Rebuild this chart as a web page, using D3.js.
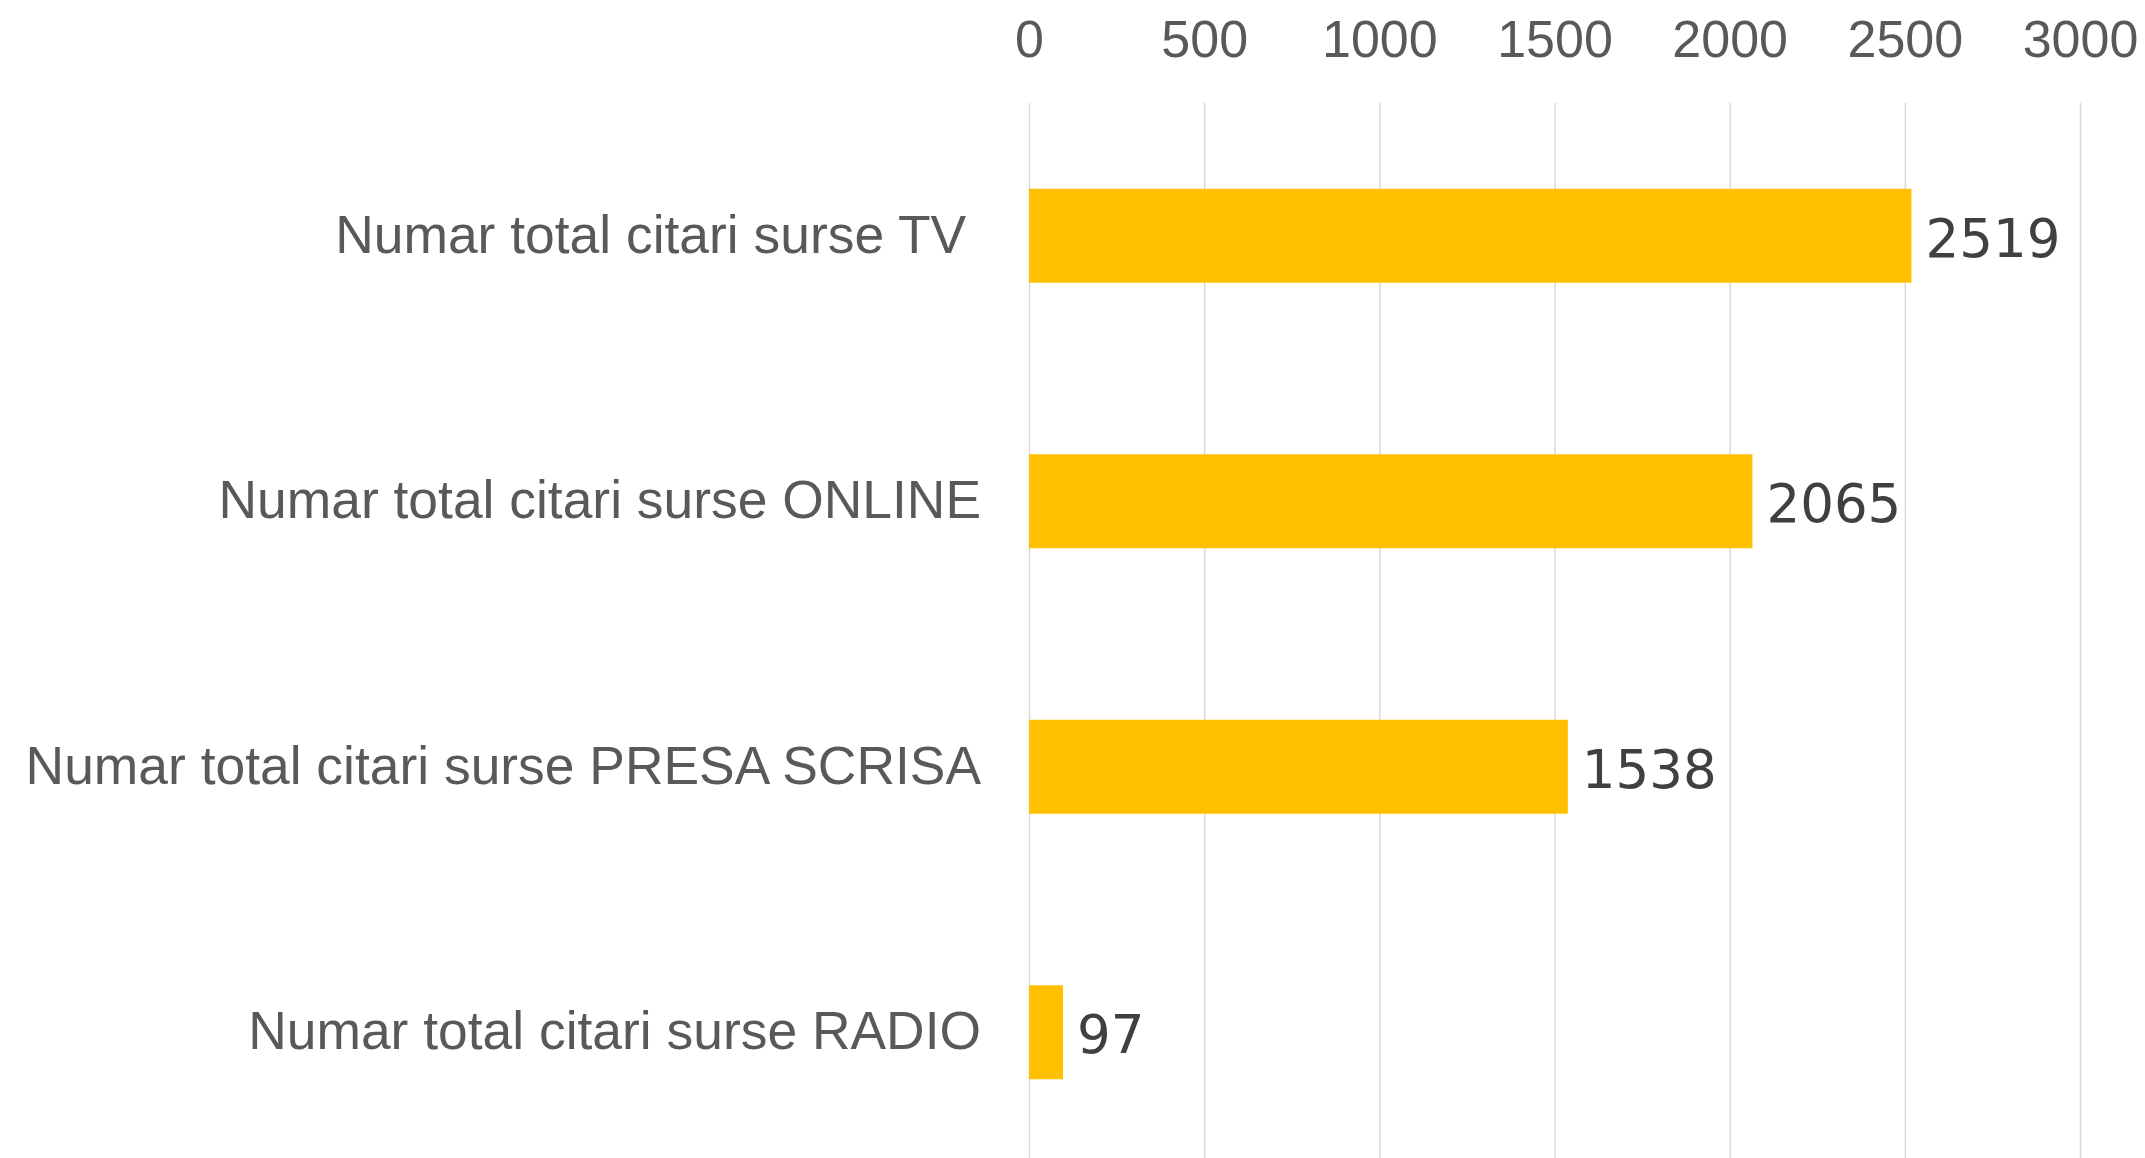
<!DOCTYPE html>
<html>
<head>
<meta charset="utf-8">
<script src="https://cdn.jsdelivr.net/npm/d3@7"></script>
<style>
html, body { margin: 0; padding: 0; background: #ffffff; }
svg { display: block; }
</style>
</head>
<body>
<script>
const categories = ["Numar total citari surse TV ", "Numar total citari surse ONLINE", "Numar total citari surse PRESA SCRISA", "Numar total citari surse RADIO"];
const values = [2519, 2065, 1538, 97];
const tickValues = [0, 500, 1000, 1500, 2000, 2500, 3000];

const W = 2145, H = 1158;
const svg = d3.select("body").append("svg").attr("width", W).attr("height", H);

const x = d3.scaleLinear().domain([0, 3000]).range([1029, 2080]);
const y = d3.scaleBand().domain(categories).range([103, 1165]).paddingInner(0.646).paddingOuter(0.323);

// axis + gridlines
const axis = d3.axisTop(x).tickValues(tickValues).tickSize(-1100).tickPadding(46).tickFormat(d3.format("d"));
const g = svg.append("g").attr("transform", "translate(0,103)").call(axis);
g.select(".domain").remove();
g.selectAll(".tick line").attr("stroke", "#d9d9d9").attr("stroke-width", 1.5);
g.selectAll(".tick text")
  .attr("fill", "#595959")
  .style("font-family", "'Liberation Sans', Arial, sans-serif")
  .style("font-size", "52px");

// bars
svg.append("g").selectAll("rect").data(values).join("rect")
  .attr("x", x(0))
  .attr("y", (d, i) => y(categories[i]))
  .attr("width", d => x(d) - x(0))
  .attr("height", y.bandwidth())
  .attr("fill", "#FFC000");

// value labels
svg.append("g").selectAll("text").data(values).join("text")
  .attr("x", d => x(d) + 14)
  .attr("y", (d, i) => y(categories[i]) + y.bandwidth() / 2 + 21)
  .attr("fill", "#404040")
  .style("font-family", "'DejaVu Sans', sans-serif")
  .style("font-size", "53px")
  .text(d => d);

// category labels
svg.append("g").selectAll("text").data(categories).join("text")
  .attr("x", 981)
  .attr("y", d => y(d) + y.bandwidth() / 2 + 17)
  .attr("text-anchor", "end")
  .attr("xml:space", "preserve")
  .style("white-space", "pre")
  .attr("fill", "#595959")
  .style("font-family", "'Liberation Sans', Arial, sans-serif")
  .style("font-size", "53.4px")
  .text(d => d);
</script>
</body>
</html>
